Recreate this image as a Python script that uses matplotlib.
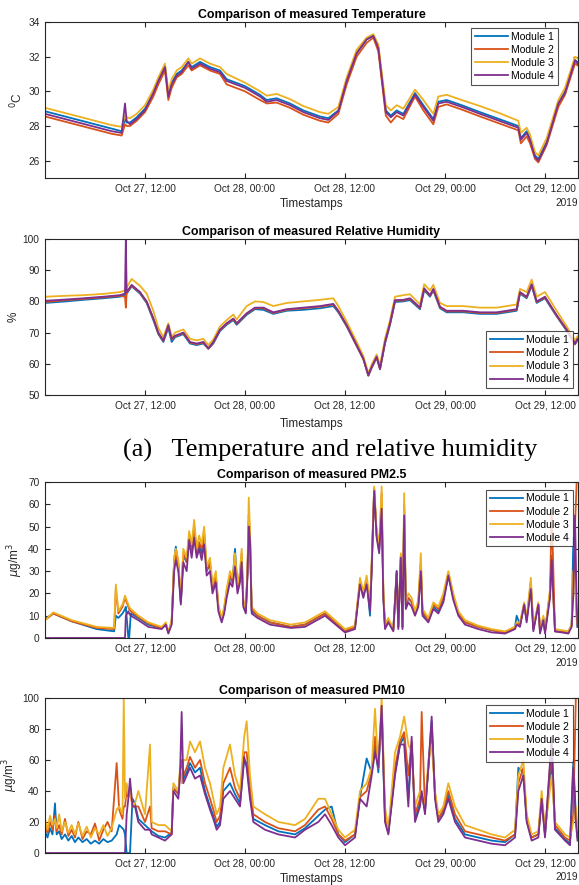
import numpy as np
import pandas as pd
import matplotlib
matplotlib.use("Agg")
import matplotlib.pyplot as plt
import matplotlib.dates as mdates

plt.rcParams['font.family'] = ['Liberation Sans', 'DejaVu Sans']

start = pd.Timestamp('2019-10-27 00:00')
modules = ['Module 1', 'Module 2', 'Module 3', 'Module 4']
colors = ['#0072BD', '#D95319', '#EDB120', '#7E2F8E']

# ---- temperature (hours since Oct 27 00:00) ----
t_hours = [0, 2, 4, 6, 8, 9.2, 9.6, 9.8, 10.2, 11,
           12, 13, 13.6, 14.2, 14.4, 14.8, 15.2, 15.8, 16.4, 17.2,
           17.6, 18.6, 19.8, 21, 21.8, 24, 25.8, 26.6, 27.8, 29.4,
           31, 33, 34, 35.2, 36.2, 37.4, 38.6, 39.4, 40, 40.9,
           41.5, 42.2, 43, 44.4, 45.4, 46.6, 47.2, 48.2, 50, 52.2,
           54.5, 56.8, 57.1, 57.8, 58.2, 58.8, 59.2, 60.2, 61.6, 62.4,
           63.6, 63.9]
temp_m1 = [28.85, 28.6, 28.35, 28.1, 27.85, 27.7, 28.4, 28.2, 28.2, 28.5,
           29.0, 29.9, 30.6, 31.2, 31.4, 29.8, 30.5, 31.0, 31.2, 31.7,
           31.4, 31.7, 31.4, 31.2, 30.7, 30.3, 29.8, 29.5, 29.6, 29.3,
           28.9, 28.55, 28.45, 28.9, 30.6, 32.2, 33.0, 33.2, 32.5, 28.9,
           28.6, 28.9, 28.7, 29.9, 29.2, 28.4, 29.4, 29.5, 29.2, 28.8,
           28.4, 28.0, 27.3, 27.7, 27.3, 26.3, 26.1, 27.1, 29.3, 30.0,
           31.8, 31.7]
temp_m2 = [28.55, 28.3, 28.05, 27.8, 27.55, 27.45, 28.1, 28.0, 28.0, 28.3,
           28.8, 29.7, 30.4, 31.0, 31.2, 29.5, 30.2, 30.8, 31.0, 31.5,
           31.2, 31.5, 31.2, 31.0, 30.4, 30.0, 29.5, 29.3, 29.35, 29.05,
           28.65, 28.3, 28.2, 28.7, 30.4, 32.0, 32.8, 33.1, 32.3, 28.6,
           28.2, 28.6, 28.4, 29.7, 28.9, 28.1, 29.1, 29.25, 28.95, 28.55,
           28.15, 27.75, 27.0, 27.4, 27.0, 26.1, 25.9, 26.9, 29.1, 29.8,
           31.6, 31.5]
temp_m3 = [29.05, 28.8, 28.55, 28.3, 28.05, 27.95, 28.6, 28.5, 28.45, 28.7,
           29.2, 30.1, 30.8, 31.4, 31.6, 30.0, 30.7, 31.2, 31.4, 31.9,
           31.6, 31.9, 31.6, 31.4, 31.0, 30.5, 30.0, 29.75, 29.85, 29.55,
           29.15, 28.8, 28.7, 29.1, 30.8, 32.4, 33.1, 33.3, 32.7, 29.2,
           28.9, 29.2, 29.0, 30.1, 29.5, 28.7, 29.7, 29.8, 29.5, 29.15,
           28.75, 28.3, 27.6, 27.9, 27.5, 26.5, 26.3, 27.3, 29.5, 30.2,
           32.0, 31.9]
temp_m4 = [28.7, 28.45, 28.2, 27.95, 27.7, 27.6, 29.3, 28.3, 28.1, 28.4,
           28.9, 29.9, 30.6, 31.2, 31.4, 29.7, 30.4, 30.9, 31.1, 31.7,
           31.3, 31.6, 31.3, 31.1, 30.6, 30.2, 29.7, 29.4, 29.5, 29.2,
           28.8, 28.45, 28.35, 28.85, 30.6, 32.2, 33.0, 33.2, 32.5, 28.8,
           28.5, 28.8, 28.6, 29.8, 29.1, 28.3, 29.3, 29.4, 29.1, 28.7,
           28.3, 27.9, 27.2, 27.6, 27.2, 26.2, 26.0, 27.0, 29.3, 29.9,
           31.8, 31.6]

# ---- relative humidity ----
h_hours = [0, 2.5, 4.6, 7, 9, 9.6, 9.7, 9.8, 10.4, 11.4,
           12.2, 13, 13.6, 14.2, 14.8, 15.2, 15.6, 16.6, 17.4, 18.2,
           19, 19.6, 20.2, 21, 21.8, 22.6, 23, 24.2, 25.2, 26.2,
           27.4, 29, 31, 33, 34.6, 35.2, 36.2, 37.4, 38.2, 38.8,
           39.2, 39.8, 40.2, 40.8, 41.4, 42, 43, 43.8, 45, 45.5,
           46.2, 46.6, 47.4, 48.2, 50.2, 52.2, 54.2, 56.6, 57, 57.8,
           58.4, 59, 60, 61.4, 62.6, 63.6, 63.9]
rh_m1 = [79.5, 80.0, 80.5, 81.0, 81.5, 82.0, 82.5, 82.5, 84.8, 82.5,
         79.5, 74.0, 69.5, 67.0, 71.5, 67.0, 68.5, 69.5, 66.5, 66.0,
         66.5, 64.8, 66.5, 70.5, 72.5, 74.0, 72.5, 75.7, 77.5, 77.3,
         76.0, 77.0, 77.3, 77.8, 78.5, 76.5, 72.0, 65.7, 61.5, 56.2,
         58.7, 62.0, 58.2, 66.5, 72.5, 79.8, 80.0, 80.4, 77.5, 83.6,
         81.5, 83.5, 77.8, 76.5, 76.5, 76.0, 76.0, 77.0, 82.5, 81.0,
         85.0, 79.5, 81.0, 75.2, 70.6, 66.2, 67.6]
rh_m2 = [79.8, 80.4, 80.8, 81.3, 81.8, 81.5, 78.0, 82.8, 85.0, 82.8,
         79.8, 74.4, 69.8, 67.3, 72.2, 67.8, 68.8, 69.8, 66.8, 66.3,
         66.8, 64.8, 66.8, 70.8, 72.8, 74.3, 72.8, 76.0, 77.8, 77.8,
         76.3, 77.3, 77.8, 78.3, 79.0, 76.8, 72.2, 65.8, 61.5, 56.2,
         58.8, 62.1, 58.3, 66.8, 72.8, 80.2, 80.3, 80.8, 77.8, 84.0,
         81.8, 83.8, 78.1, 76.8, 76.8, 76.3, 76.3, 77.3, 82.8, 81.3,
         85.3, 79.8, 81.3, 75.4, 70.8, 66.3, 67.8]
rh_m3 = [81.5, 81.8, 82.0, 82.4, 83.0, 83.5, 84.0, 84.5, 87.2, 85.0,
         82.5, 77.0, 71.5, 68.5, 73.0, 68.5, 70.0, 71.0, 68.0, 67.5,
         68.0, 66.0, 67.8, 72.0, 74.0, 75.8, 74.2, 78.5, 80.0, 79.8,
         78.5, 79.5, 80.0, 80.5, 81.0, 78.5, 73.5, 67.0, 62.5, 57.0,
         59.8, 63.0, 59.5, 68.0, 74.0, 81.5, 82.0, 82.3, 79.0, 85.5,
         83.5, 85.3, 79.5, 78.5, 78.5, 78.0, 78.0, 79.0, 84.0, 83.0,
         87.0, 81.5, 83.0, 77.0, 72.0, 67.5, 68.8]
rh_m4 = [80.2, 80.6, 81.0, 81.5, 82.0, 82.5, 100.0, 83.0, 85.3, 83.0,
         80.0, 74.6, 70.0, 67.5, 72.4, 68.0, 69.0, 70.0, 67.0, 66.5,
         67.0, 65.0, 67.0, 71.0, 73.0, 74.5, 73.0, 76.2, 78.0, 78.0,
         76.5, 77.5, 78.0, 78.5, 79.2, 77.0, 72.4, 66.0, 61.7, 56.4,
         59.0, 62.3, 58.5, 67.0, 73.0, 80.4, 80.5, 81.0, 78.0, 84.2,
         82.0, 84.0, 78.3, 77.0, 77.0, 76.5, 76.5, 77.5, 83.0, 81.5,
         85.5, 80.0, 81.5, 75.6, 71.0, 66.5, 68.0]

# ---- PM2.5 ----
p25_hours = [0, 1, 3.2, 6.2, 8.3, 8.5, 8.8, 9.3, 9.6, 9.7,
             10, 10.1, 10.3, 11.2, 12.4, 14, 14.5, 14.8, 15.2, 15.5,
             15.7, 16, 16.3, 16.6, 17, 17.3, 17.6, 17.9, 18.2, 18.5,
             18.8, 19.1, 19.4, 19.8, 20.1, 20.5, 20.8, 21.2, 21.5, 21.8,
             22.2, 22.5, 22.8, 23.1, 23.4, 23.6, 23.8, 24.1, 24.3, 24.45,
             24.6, 24.8, 25.5, 27, 29.5, 31.2, 33.6, 36, 37.2, 37.8,
             38.2, 38.6, 39, 39.2, 39.5, 39.8, 40.1, 40.4, 40.6, 40.8,
             41.2, 41.8, 42.2, 42.4, 42.7, 42.9, 43.1, 43.3, 43.6, 44,
             44.4, 44.8, 45.1, 45.3, 46, 46.6, 47.2, 47.8, 48.4, 49,
             49.6, 50.4, 52, 53.6, 55.2, 56.4, 56.6, 57, 57.5, 57.8,
             58.3, 58.6, 59.2, 59.4, 59.8, 60, 60.6, 60.8, 61.2, 62.8,
             63.2, 63.4, 63.6, 63.8, 63.9]
pm25_m1 = [8.5, 11, 7.5, 4, 3, 10, 9, 11, 13, 14,
           0, 0, 11, 9, 6, 4.5, 6, 2.5, 7, 35,
           41, 33, 16, 37, 34, 46, 40, 50, 38, 42,
           38, 47, 30, 33, 22, 27, 14, 8, 12, 20,
           27, 25, 40, 22, 28, 36, 15, 12, 30, 52,
           45, 12, 10, 7, 5, 6, 11, 3, 5, 25,
           20, 26, 10, 32, 67, 46, 40, 60, 19, 5,
           8, 4, 30, 5, 37, 5, 58, 14, 18, 16,
           11, 15, 32, 11, 8, 14, 12, 17, 28, 18,
           11, 7, 5, 3.5, 2.5, 5, 10, 6, 15, 8,
           24, 4, 15, 3, 9, 3, 20, 37, 3, 2.5,
           6, 45, 30, 10, 5]
pm25_m2 = [8, 11, 7.5, 4.5, 4, 22, 11, 14, 18, 17,
           14, 13, 12, 9.5, 6.5, 4.5, 6.5, 2.5, 7.5, 33,
           38, 33, 16, 38, 34, 46, 40, 50, 38, 43,
           40, 46, 30, 34, 22, 28, 14, 8, 13, 21,
           28, 25, 36, 22, 28, 38, 16, 12, 30, 55,
           46, 13, 10, 7, 5, 6, 11, 3, 5, 25,
           20, 26, 14, 32, 67, 46, 40, 65, 20, 5,
           8, 3.5, 29, 5, 36, 5, 60, 15, 18, 16,
           11, 16, 34, 12, 8, 15, 13, 18, 29, 19,
           11, 7, 5, 3.5, 2.5, 4.5, 6.5, 6, 15, 8,
           25, 4, 15, 3, 9, 3, 20, 58, 3, 2.5,
           6, 25, 50, 70, 70]
pm25_m3 = [8, 11.5, 8, 5, 4.5, 24, 12, 15, 19, 18,
           15, 14, 13, 10, 7, 5, 7, 2.5, 8, 36,
           40, 35, 18, 40, 36, 48, 42, 53, 40, 46,
           42, 50, 32, 36, 24, 30, 15, 9, 14, 22,
           30, 27, 38, 24, 30, 40, 17, 13, 32, 63,
           48, 14, 11, 8, 6, 7, 12, 4, 5.5, 27,
           21, 28, 16, 34, 68, 48, 42, 68, 22, 6,
           9, 4, 28, 6, 38, 6, 65, 16, 20, 18,
           12, 17, 38, 13, 9, 16, 14, 20, 30, 20,
           12, 8, 5.5, 4, 3, 5, 7, 7, 16, 9,
           27, 5, 16, 4, 10, 3, 22, 30, 4, 3,
           6, 30, 25, 8, 6]
pm25_m4 = [0, 0, 0, 0, 0, 0, 0, 0, 0, 10,
           12, 11, 10, 8, 5, 4, 6, 2, 6, 30,
           35, 30, 15, 34, 30, 44, 36, 45, 36, 40,
           35, 42, 28, 30, 20, 25, 12, 7, 11, 18,
           25, 23, 32, 20, 25, 34, 14, 11, 28, 50,
           44, 11, 9, 6, 4.5, 5, 10, 2.5, 4, 24,
           18, 24, 12, 30, 66, 45, 38, 58, 18, 4,
           7, 3, 30, 4, 36, 4, 55, 13, 16, 14,
           10, 14, 30, 10, 7, 13, 11, 16, 28, 17,
           10, 6, 4, 2.5, 2, 4, 6, 5, 15, 7,
           22, 3, 15, 2, 8, 2, 18, 35, 3, 2,
           5, 20, 55, 15, 5]

# ---- PM10 ----
p10_hours = [0, 0.3, 0.6, 0.9, 1.2, 1.4, 1.7, 2.0, 2.4, 2.8,
             3.2, 3.6, 4.0, 4.5, 5.0, 5.5, 6.0, 6.5, 7.0, 7.5,
             8, 8.6, 8.9, 9.3, 9.45, 9.6, 9.8, 10, 10.2, 10.5,
             10.8, 11.2, 12, 12.6, 12.8, 13.6, 14.4, 15.2, 15.4, 16,
             16.2, 16.4, 16.6, 17, 17.4, 18, 18.6, 19.2, 19.8, 20.2,
             20.6, 21, 21.4, 22.2, 22.8, 23.4, 23.9, 24.2, 24.6, 25,
             26.4, 28, 30, 31.2, 32.8, 33.6, 34.4, 35.2, 36, 37.2,
             37.8, 38.6, 39.2, 39.6, 40, 40.4, 40.8, 41.2, 42, 42.6,
             43.1, 43.6, 44, 44.4, 45, 45.2, 45.6, 46, 46.4, 46.8,
             47.2, 47.8, 48.4, 49.2, 50.4, 52, 53.6, 55.2, 56.4, 56.8,
             57.4, 57.8, 58.4, 59.2, 59.6, 60, 60.8, 61.2, 62.4, 63,
             63.4, 63.7, 63.9]
pm10_m1 = [14, 10, 16, 12, 32, 12, 14, 9, 12, 8,
           11, 7, 10, 7, 9, 6, 8, 6, 9, 7,
           8, 12, 18, 16, 15, 12, 0, 0, 0, 35,
           32, 22, 18, 15, 14, 11, 10, 13, 42, 38,
           52, 50, 48, 52, 58, 52, 55, 40, 30, 24,
           17, 20, 40, 45, 38, 32, 60, 58, 38, 22,
           18, 14, 12, 16, 24, 28, 30, 12, 7, 12,
           36, 61, 52, 70, 52, 90, 22, 13, 52, 70,
           75, 35, 70, 22, 32, 38, 27, 55, 85, 38,
           22, 27, 38, 22, 12, 10, 8, 7, 12, 55,
           52, 22, 10, 12, 35, 12, 60, 16, 9, 6,
           60, 25, 10]
pm10_m2 = [18, 13, 20, 15, 24, 14, 18, 12, 22, 11,
           15, 10, 20, 9, 14, 12, 19, 8, 15, 20,
           14, 58, 28, 22, 30, 30, 40, 36, 42, 30,
           30, 30, 20, 30, 16, 14, 14, 12, 42, 38,
           52, 60, 50, 55, 62, 55, 60, 45, 35, 28,
           20, 24, 45, 55, 42, 35, 65, 65, 42, 25,
           20, 16, 14, 18, 28, 30, 22, 12, 8, 12,
           36, 40, 52, 75, 55, 95, 25, 14, 55, 72,
           78, 50, 72, 25, 35, 91, 28, 55, 80, 38,
           22, 28, 40, 25, 14, 12, 10, 8, 12, 45,
           55, 22, 10, 12, 35, 12, 70, 18, 10, 8,
           25, 100, 100]
pm10_m3 = [22, 15, 24, 18, 22, 16, 25, 14, 20, 13,
           18, 12, 19, 11, 17, 10, 16, 12, 18, 11,
           16, 28, 30, 25, 100, 35, 45, 38, 40, 30,
           32, 40, 25, 70, 20, 18, 18, 14, 45, 40,
           55, 45, 60, 60, 72, 65, 72, 55, 45, 35,
           25, 30, 55, 70, 50, 40, 75, 85, 50, 30,
           25, 20, 18, 22, 35, 35, 25, 15, 10, 15,
           40, 45, 55, 93, 55, 100, 30, 15, 65, 75,
           88, 70, 65, 30, 40, 35, 30, 60, 70, 40,
           25, 30, 45, 30, 18, 15, 12, 10, 15, 50,
           60, 25, 12, 14, 40, 15, 50, 20, 12, 10,
           20, 30, 15]
pm10_m4 = [0, 0, 0, 0, 0, 0, 0, 0, 0, 0,
           0, 0, 0, 0, 0, 0, 0, 0, 0, 0,
           0, 0, 0, 0, 0, 0, 25, 35, 48, 30,
           30, 20, 15, 15, 12, 10, 8, 12, 40, 35,
           50, 91, 45, 50, 55, 48, 50, 38, 28, 22,
           15, 18, 35, 40, 35, 30, 62, 55, 35, 20,
           15, 12, 10, 15, 20, 25, 18, 10, 5, 10,
           35, 30, 50, 65, 55, 95, 20, 12, 50, 70,
           70, 30, 75, 20, 30, 40, 25, 55, 88, 35,
           20, 25, 35, 20, 10, 8, 6, 5, 10, 40,
           50, 20, 8, 10, 35, 10, 75, 15, 8, 5,
           55, 20, 8]

panels = [
    ('Comparison of measured Temperature', t_hours, [temp_m1, temp_m2, temp_m3, temp_m4],
     '${}^{0}$C', (25, 34), [26, 28, 30, 32, 34], 'upper right', (0.9625, 0.9615)),
    ('Comparison of measured Relative Humidity', h_hours, [rh_m1, rh_m2, rh_m3, rh_m4],
     '%', (50, 100), [50, 60, 70, 80, 90, 100], 'lower right', (0.99, 0.045)),
    ('Comparison of measured PM2.5', p25_hours, [pm25_m1, pm25_m2, pm25_m3, pm25_m4],
     '$\\mu$g/m$^3$', (0, 70), [0, 10, 20, 30, 40, 50, 60, 70], 'upper right', (0.99, 0.95)),
    ('Comparison of measured PM10', p10_hours, [pm10_m1, pm10_m2, pm10_m3, pm10_m4],
     '$\\mu$g/m$^3$', (0, 100), [0, 20, 40, 60, 80, 100], 'upper right', (0.99, 0.955)),
]

# axes boxes in pixels (top, bottom) for a 579x885 figure
boxes = [(22, 178), (239, 395), (482, 638), (698, 853)]
W, H = 579, 885

fig = plt.figure(figsize=(W / 100, H / 100), dpi=100)
tick_col = '#262626'
xmin = start
xmax = start + pd.Timedelta(hours=63.96)
xticks = [start + pd.Timedelta(hours=h) for h in (12, 24, 36, 48, 60)]

for i, (title, hrs, series, ylab, ylim, yticks, loc, anchor) in enumerate(panels):
    top, bot = boxes[i]
    ax = fig.add_axes([45 / W, 1 - bot / H, 533 / W, (bot - top) / H])
    times = start + pd.to_timedelta(hrs, unit='h')
    for name, col, vals in zip(modules, colors, series):
        ax.plot(times, vals, color=col, lw=1.3, label=name)
    ax.set_xlim(xmin, xmax)
    ax.set_ylim(*ylim)
    ax.set_yticks(yticks)
    ax.set_xticks(xticks)
    ax.xaxis.set_major_formatter(mdates.DateFormatter('%b %d, %H:%M'))
    ax.tick_params(direction='in', top=True, right=True, labelsize=7.3,
                   colors=tick_col, length=3.5, width=0.8, pad=4)
    for s in ax.spines.values():
        s.set_color(tick_col)
        s.set_linewidth(0.8)
    ax.set_title(title, fontsize=8.9, fontweight='bold', pad=3)
    ax.set_ylabel(ylab, fontsize=8.5, color=tick_col, labelpad=2)
    if i in (0, 1, 3):
        ax.set_xlabel('Timestamps', fontsize=8.5, color=tick_col,
                      labelpad=5 if i == 1 else 3.5)
    if i in (0, 2, 3):
        ax.text(1.0, -0.125, '2019', transform=ax.transAxes, ha='right',
                va='top', fontsize=7.3, color=tick_col)
    leg = ax.legend(loc=loc, bbox_to_anchor=anchor, fontsize=7.5,
                    handlelength=3.2, frameon=True, fancybox=False,
                    edgecolor='#262626', borderpad=0.35, labelspacing=0.3,
                    handletextpad=0.3, borderaxespad=0.0)
    leg.get_frame().set_linewidth(0.8)

fig.text(330 / W, 1 - 450 / H, '(a)   Temperature and relative humidity',
         ha='center', va='center', fontsize=19, family=['Liberation Serif'])

fig.savefig('out.png', dpi=100)
